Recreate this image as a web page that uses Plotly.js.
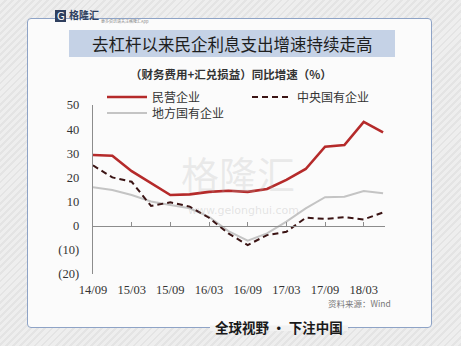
<!DOCTYPE html>
<html>
<head>
<meta charset="utf-8">
<script src="https://cdn.plot.ly/plotly-3.0.1.min.js"></script>
<style>
  html, body { margin:0; padding:0; width:461px; height:346px; overflow:hidden; }
  body {
    background: repeating-linear-gradient(135deg, #eeeeee 0px, #eeeeee 3px, #e4e4e4 3px, #e4e4e4 5px);
    position: relative;
  }
  #panel {
    position:absolute; left:27px; top:18px; width:403px; height:308px;
    background:#fbfbfb; border:1.5px solid #8ea3c6; border-radius:4px;
  }
  #chart { position:absolute; left:0; top:0; width:461px; height:346px; }
</style>
</head>
<body>
<div id="panel"></div>
<div id="chart"></div>
<script>
// ---- data ----
const periods = ["14/09","14/12","15/03","15/06","15/09","15/12","16/03","16/06",
                 "16/09","16/12","17/03","17/06","17/09","17/12","18/03","18/06"];
const privateEnt = [29.3, 29.0, 22.6, 17.5, 12.7, 13.0, 14.0, 14.5,
                    14.0, 15.2, 19.0, 23.5, 32.7, 33.4, 43.0, 38.7];
const centralSOE = [25.0, 20.0, 18.2, 8.2, 9.7, 7.9, 3.3, -3.2,
                    -8.0, -3.9, -2.5, 3.3, 2.8, 3.5, 2.6, 5.5];
const localSOE   = [15.9, 14.8, 12.7, 10.0, 8.6, 7.2, 3.7, -2.2,
                    -6.2, -3.2, 1.7, 7.2, 11.8, 12.0, 14.4, 13.4];
const seriesNames = ["民营企业", "中央国有企业", "地方国有企业"];
const xTickIdx = [0, 2, 4, 6, 8, 10, 12, 14];
const yTickVals = [-20, -10, 0, 10, 20, 30, 40, 50];
const yTickText = ["(20)", "(10)", "0", "10", "20", "30", "40", "50"];

const idx = periods.map((_, i) => i);
const xTickText = xTickIdx.map(i => periods[i]);

// pixel -> paper helpers (plot area 93..385 x, 105..274 y)
const L = 93, R = 385, T = 105, B = 274;
const px = x => (x - L) / (R - L);
const py = y => (B - y) / (B - T);

const cjk = '"Noto Sans CJK SC", "Noto Sans", sans-serif';
const serif = '"Liberation Serif", "DejaVu Serif", serif';

const traces = [
  { x: idx, y: privateEnt, name: seriesNames[0], type: 'scatter', mode: 'lines',
    line: { color: '#b52a2a', width: 2.6 }, legend: 'legend' },
  { x: idx, y: localSOE, name: seriesNames[2], type: 'scatter', mode: 'lines',
    line: { color: '#c4c4c4', width: 2 }, legend: 'legend3' },
  { x: idx, y: centralSOE, name: seriesNames[1], type: 'scatter', mode: 'lines',
    line: { color: '#3b1414', width: 2, dash: '6px,4px' }, legend: 'legend2' },
  { x: idx, y: idx.map(() => null), xaxis: 'x2', showlegend: false, hoverinfo: 'skip',
    type: 'scatter', mode: 'lines' }
];

function leg(xp, yp) {
  return {
    xref: 'paper', yref: 'paper', x: px(xp), y: py(yp),
    xanchor: 'left', yanchor: 'middle', orientation: 'v', bgcolor: 'rgba(0,0,0,0)',
    itemwidth: 40, font: { family: cjk, size: 12, color: '#333' }
  };
}
function ann(text, x, y, size, color, extra) {
  return Object.assign({ text, xref: 'paper', yref: 'paper', x: px(x), y: py(y),
    xanchor: 'center', yanchor: 'middle', showarrow: false,
    font: { family: cjk, size, color } }, extra || {});
}

const layout = {
  width: 461, height: 346,
  paper_bgcolor: 'rgba(0,0,0,0)', plot_bgcolor: 'rgba(0,0,0,0)',
  margin: { l: L, r: 461 - R, t: T, b: 346 - B, autoexpand: false },
  showlegend: true,
  xaxis: {
    range: [0, 15.1], tickvals: xTickIdx, ticktext: xTickText, automargin: false,
    showgrid: false, zeroline: false, showline: false, ticks: '',
    ticklabelstandoff: 6,
    tickfont: { family: serif, size: 12.5, color: '#333' }
  },
  xaxis2: {
    overlaying: 'x', anchor: 'free', position: py(225.7), automargin: false,
    range: [0, 15.1], tickvals: xTickIdx.slice(1), showticklabels: false,
    ticks: 'outside', side: 'top', ticklen: 4, tickcolor: '#8c8c8c', tickwidth: 1,
    showline: true, linecolor: '#8c8c8c', linewidth: 1.3, showgrid: false, zeroline: false
  },
  yaxis: {
    range: [-20, 50], tickvals: yTickVals, ticktext: yTickText, automargin: false,
    showgrid: false, zeroline: false, showline: true, linecolor: '#8c8c8c', linewidth: 1.3,
    ticks: '', ticklabelstandoff: 10,
    tickfont: { family: serif, size: 12.5, color: '#333' }
  },
  legend: leg(102, 97),
  legend2: leg(247, 97),
  legend3: leg(102, 113),
  shapes: [
    { type: 'rect', xref: 'paper', yref: 'paper', x0: px(69), x1: px(395), y0: py(57), y1: py(30),
      fillcolor: '#c5d2e6', line: { width: 0 }, layer: 'below' },
    { type: 'rect', xref: 'paper', yref: 'paper', x0: px(210), x1: px(348), y0: py(331), y1: py(325.5),
      fillcolor: '#f2f2f2', line: { width: 0 }, layer: 'below' },
    { type: 'rect', xref: 'paper', yref: 'paper', x0: px(55), x1: px(66), y0: py(22), y1: py(10),
      fillcolor: '#2f3f5e', line: { width: 0 }, layer: 'below' }
  ],
  annotations: [
    ann('去杠杆以来民企利息支出增速持续走高', 232, 44, 16.5, '#1e1e1e'),
    ann('<b>（财务费用+汇兑损益）同比增速（%）</b>', 231, 74, 11.5, '#333'),
    ann('格隆汇', 238, 172, 38, 'rgba(170,170,170,0.22)'),
    Object.assign(ann('www.gelonghui.com', 243, 210, 11, 'rgba(170,170,170,0.3)'),
      { font: { family: 'DejaVu Sans, sans-serif', size: 11, color: 'rgba(170,170,170,0.3)' } }),
    ann('资料来源：Wind', 393, 303, 8.5, '#777', { xanchor: 'right' }),
    ann('<b>全球视野 • 下注中国</b>', 279, 327, 13.5, '#1a1a1a'),
    Object.assign(ann('G', 60.5, 16, 10, '#fff'),
      { font: { family: 'DejaVu Sans, sans-serif', size: 10, color: '#ffffff' } }),
    ann('<b>格隆汇</b>', 67, 15, 10, '#2f3f5e', { xanchor: 'left' }),
    ann('更多资讯请关注格隆汇App', 99, 20.5, 4, '#888', { xanchor: 'left' })
  ]
};

Plotly.newPlot('chart', traces, layout, { staticPlot: true, displayModeBar: false });
</script>
</body>
</html>
